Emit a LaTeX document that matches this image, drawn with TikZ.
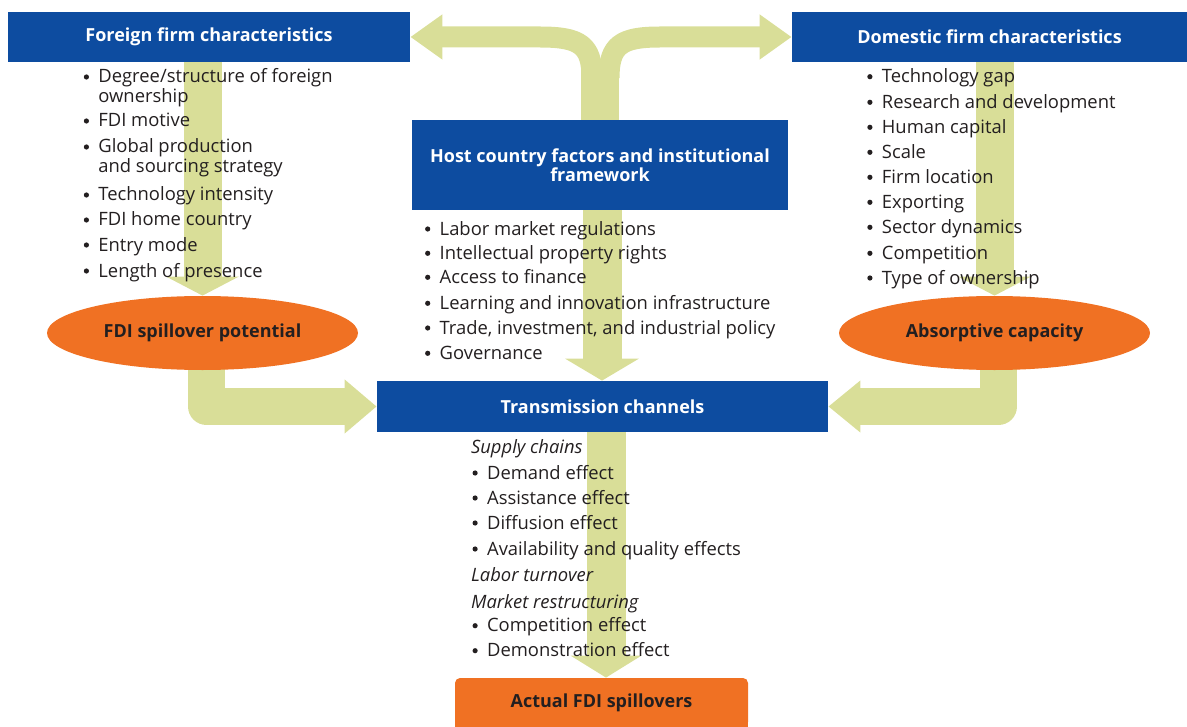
\documentclass[tikz,border=0pt]{standalone}
\usepackage{fontspec}
\setmainfont{Open Sans}
\usetikzlibrary{shapes.geometric,arrows.meta,calc}
\pgfdeclarelayer{background}
\pgfsetlayers{background,main}
\definecolor{wbblue}{RGB}{13,76,160}
\definecolor{wborange}{RGB}{240,113,35}
\definecolor{wbgreen}{RGB}{217,222,152}
\definecolor{wbtext}{RGB}{35,31,32}
\newcommand{\bitem}[1]{\llap{\tikz[baseline=0pt]{\fill[wbtext] (0,3pt) circle (1.3pt);}\hspace{4.7pt}}#1}
\begin{document}
\begin{tikzpicture}[x=0.5pt,y=-0.5pt,
  body/.style={anchor=base west, inner sep=0, text=wbtext, font=\fontsize{9.2}{10}\selectfont},
  ital/.style={body, font=\fontsize{9.2}{10}\selectfont\itshape},
  title/.style={fill=wbblue, text=white, inner sep=0, align=center, font=\fontsize{9}{9.5}\selectfont\bfseries},
  oval/.style={ellipse, fill=wborange, inner sep=0, text=wbtext, font=\fontsize{9}{9.5}\selectfont\bfseries},
  fat/.style={draw=wbgreen, line join=round}]
\useasboundingbox (0,0) rectangle (1187,727);

% boxes
\node[title, minimum width=201pt, minimum height=25pt] (foreign) at (209,37) {Foreign firm characteristics};
\node[title, minimum width=197.5pt, minimum height=25pt] (domestic) at (989.5,37) {Domestic firm characteristics};
\node[title, minimum width=188pt, minimum height=45pt] (host) at (600,165) {Host country factors and institutional\\framework};
\node[title, minimum width=225.5pt, minimum height=25.5pt] (trans) at (602.5,406.5) {Transmission channels};
\node[oval, minimum width=155.5pt, minimum height=37pt] (fdipot) at (202.5,333) {FDI spillover potential};
\node[oval, minimum width=155.5pt, minimum height=37pt] (absorb) at (994.5,333) {Absorptive capacity};
\node[fill=wborange, rounded corners=2.5pt, inner sep=0, minimum width=146.5pt, minimum height=24.5pt, text=wbtext, font=\fontsize{9}{9.5}\selectfont\bfseries] (actual) at (601.5,702.5) {Actual FDI spillovers};

% foreign list
\foreach \n/\y/\t in {f1/83/{\bitem{Degree/structure of foreign}}, f1b/103/{ownership}, f2/127/{\bitem{FDI motive}}, f3/153/{\bitem{Global production}}, f3b/173/{and sourcing strategy}, f4/201/{\bitem{Technology intensity}}, f5/226/{\bitem{FDI home country}}, f6/251/{\bitem{Entry mode}}, f7/277/{\bitem{Length of presence}}}
  \node[body] (\n) at (98,\y) {\t};

% domestic list
\foreach \n/\y/\t in {d1/82.7/{Technology gap}, d2/108.3/{Research and development}, d3/133.3/{Human capital}, d4/158.3/{Scale}, d5/183.3/{Firm location}, d6/208.3/{Exporting}, d7/233.3/{Sector dynamics}, d8/259.3/{Competition}, d9/284/{Type of ownership}}
  \node[body] (\n) at (881.5,\y) {\bitem{\t}};

% host list
\foreach \n/\y/\t in {h1/235/{Labor market regulations}, h2/259.3/{Intellectual property rights}, h3/283.3/{Access to finance}, h4/309.3/{Learning and innovation infrastructure}, h5/334/{Trade, investment, and industrial policy}, h6/359.3/{Governance}}
  \node[body] (\n) at (439.3,\y) {\bitem{\t}};

% transmission list
\node[ital] (t0) at (470.7,453.3) {Supply chains};
\foreach \n/\y/\t in {t1/479/{Demand effect}, t2/504/{Assistance effect}, t3/529/{Diffusion effect}, t4/555/{Availability and quality effects}, t7/631.7/{Competition effect}, t8/656.7/{Demonstration effect}}
  \node[body] (\n) at (486.7,\y) {\bitem{\t}};
\node[ital] (t5) at (470.7,581.7) {Labor turnover};
\node[ital] (t6) at (470.7,608.3) {Market restructuring};

% arrows
\begin{pgfonlayer}{background}
  \fill[wborange] (455,712) rectangle (748,727);
  \draw[fat, line width=19pt] (host.north) -- (600,70);
  \draw[fat, line width=10.5pt, -{Triangle[width=21.5pt,length=16pt]}]
    (592,78) .. controls (592,45) and (580,37) .. (540,37) -- (foreign.east);
  \draw[fat, line width=10.5pt, -{Triangle[width=21.5pt,length=16pt]}]
    (609,78) .. controls (609,45) and (621,37) .. (660,37) -- (domestic.west);
  \draw[fat, line width=19pt, -{Triangle[width=36pt,length=9.5pt]}]
    (foreign.south -| fdipot.north) -- (fdipot.north);
  \draw[fat, line width=19pt, -{Triangle[width=36pt,length=9.5pt]}]
    (domestic.south -| absorb.north) -- (absorb.north);
  \draw[fat, line width=19.5pt, -{Triangle[width=36.5pt,length=11pt]}]
    ($(host.south)+(2,0)$) -- ($(trans.north)+(-0.5,0)$);
  \draw[fat, line width=19.5pt, -{Triangle[width=35pt,length=11pt]}]
    ($(trans.south)+(3.5,0)$) -- ($(actual.north)+(4.5,0)$);
  \draw[fat, line width=18.5pt, -{Triangle[width=26pt,length=16pt]}]
    ($(fdipot.south)+(4,-10)$) |- (trans.west);
  \draw[fat, line width=18.5pt, -{Triangle[width=25pt,length=16pt]}]
    ($(absorb.south)+(4,-10)$) |- (trans.east);
\end{pgfonlayer}
\end{tikzpicture}
\end{document}
